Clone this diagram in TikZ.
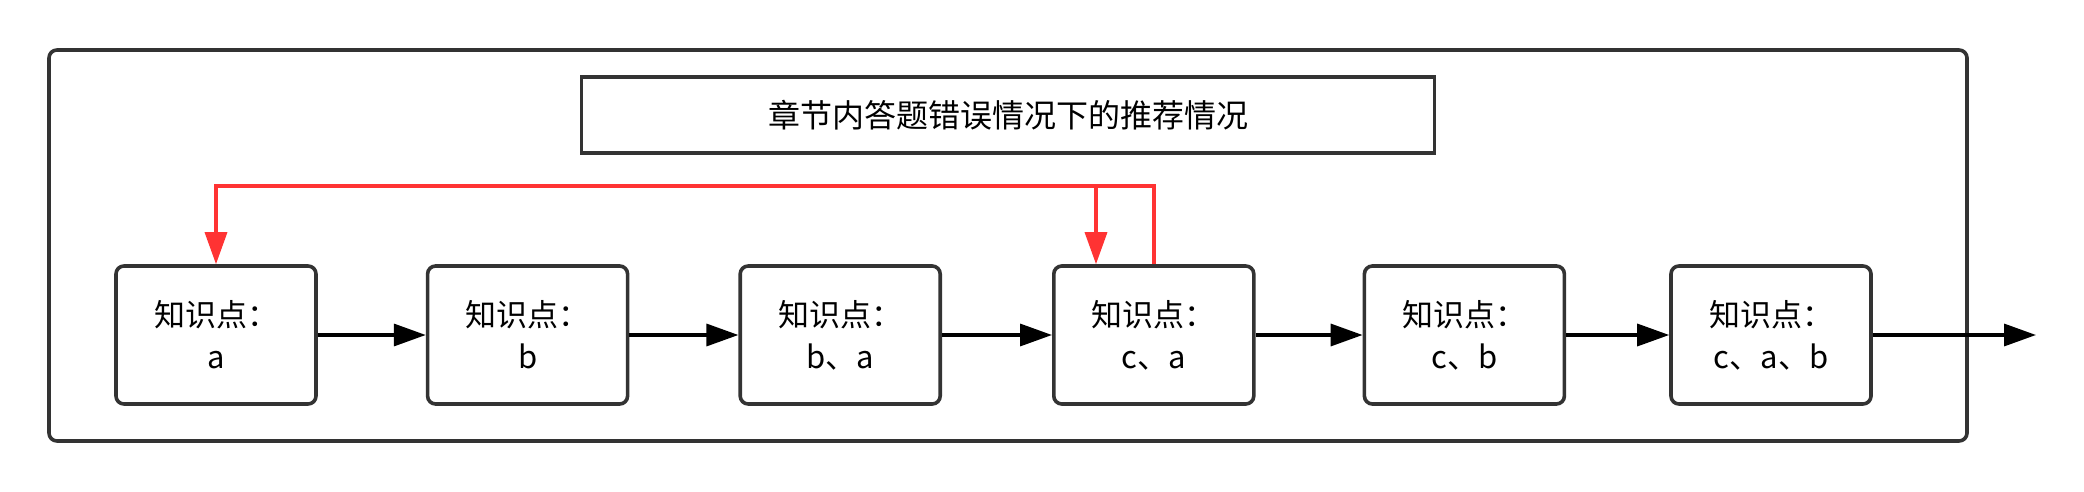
\documentclass[tikz,border=0pt]{standalone}
\usepackage{fontspec}
\setmainfont{Noto Sans CJK SC}
\usetikzlibrary{arrows.meta,positioning}
\definecolor{boxgray}{HTML}{333333}
\definecolor{linkred}{HTML}{FF3333}
\begin{document}
\begin{tikzpicture}[x=0.5pt,y=-0.5pt,
	kp/.style={draw=boxgray,line width=1.8pt,rounded corners=4pt,minimum width=100pt,minimum height=69pt,inner sep=0pt,align=center,font=\fontsize{15.5}{21}\selectfont},
	flow/.style={line width=1.7pt,-{Triangle[length=16pt,width=11pt]}},
	back/.style={flow,linkred}]
	\useasboundingbox (0,0) rectangle (2084,492);
	\draw[boxgray,line width=1.8pt,rounded corners=4pt] (49,50) rectangle (1967,441);
	\node[draw=boxgray,line width=1.8pt,minimum width=426.5pt,minimum height=38pt,font=\fontsize{16}{20}\selectfont] (title) at (1008,115) {章节内答题错误情况下的推荐情况};
	% knowledge points
	\node[kp] (n1) at (216,335) {知识点：\\a};
	\node[kp,right=54pt of n1] (n2) {知识点：\\b};
	\node[kp,right=54.5pt of n2] (n3) {知识点：\\b、a};
	\node[kp,right=55pt of n3] (n4) {知识点：\\c、a};
	\node[kp,right=53.5pt of n4] (n5) {知识点：\\c、b};
	\node[kp,right=51.5pt of n5] (n6) {知识点：\\c、a、b};
	\coordinate (out) at (2036,335);
	\draw[flow] (n1) -- (n2);
	\draw[flow] (n2) -- (n3);
	\draw[flow] (n3) -- (n4);
	\draw[flow] (n4) -- (n5);
	\draw[flow] (n5) -- (n6);
	\draw[flow] (n6) -- (out);
	% wrong answer goes back
	\coordinate (bend) at (1096,188);
	\draw[back] (n4.north) -- ++(0,-78) -| (n1.north);
	\draw[back] (bend) -- (bend |- n4.north);
\end{tikzpicture}
\end{document}
